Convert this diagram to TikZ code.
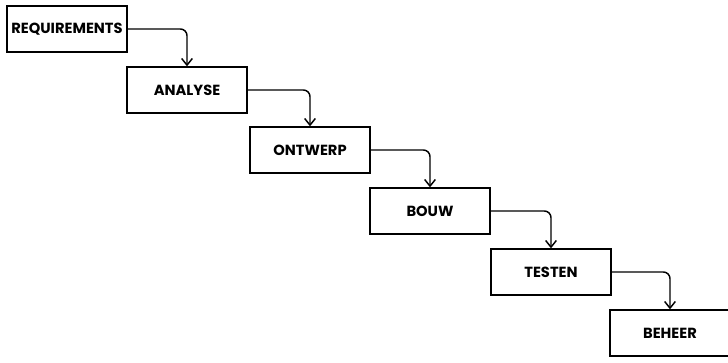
\documentclass[tikz,border=0pt]{standalone}
\usepackage{fontspec}
\setmainfont{Poppins}
\usetikzlibrary{arrows.meta}
\begin{document}
\begin{tikzpicture}[x=0.75pt,y=-0.75pt,
  phase/.style={draw, line width=1.5pt, minimum width=90pt, minimum height=34pt,
    inner sep=0pt, font=\fontsize{11}{13}\selectfont\bfseries},
  flow/.style={line width=1.1pt, rounded corners=5pt,
    -{Straight Barb[length=5pt,width=8pt,line width=1.1pt]}}]
\useasboundingbox (0,0) rectangle (728,362);
\node[phase] (req) at (67,29) {REQUIREMENTS};
\node[phase] (ana) at (187,90) {ANALYSE};
\node[phase] (ont) at (310,150) {ONTWERP};
\node[phase] (bou) at (430,211) {BOUW};
\node[phase] (tes) at (551,272) {TESTEN};
\node[phase] (beh) at (670,333) {BEHEER};
\draw[flow] (req.east) -- (req.east -| ana) -- (ana.north);
\draw[flow] (ana.east) -- (ana.east -| ont) -- (ont.north);
\draw[flow] (ont.east) -- (ont.east -| bou) -- (bou.north);
\draw[flow] (bou.east) -- (bou.east -| tes) -- (tes.north);
\draw[flow] (tes.east) -- (tes.east -| beh) -- (beh.north);
\end{tikzpicture}
\end{document}
